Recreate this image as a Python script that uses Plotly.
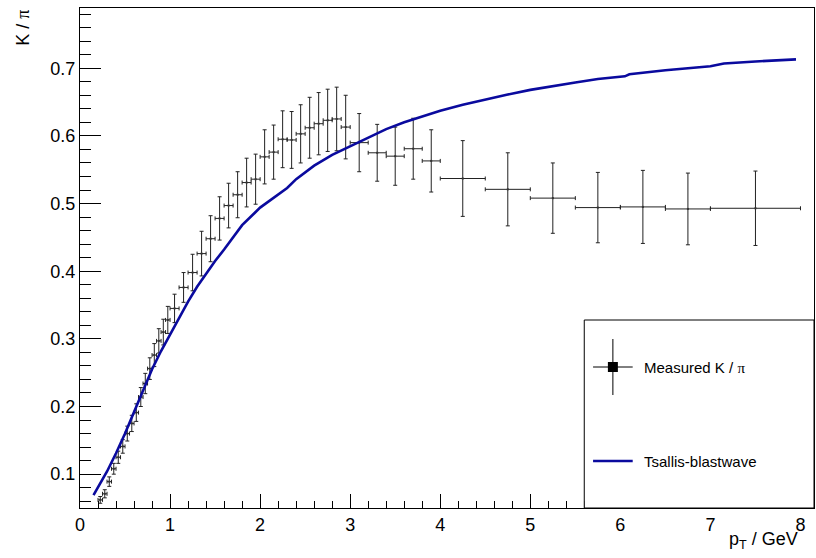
import plotly.graph_objects as go

# ---- data: measured K/pi ratio ----
pt = [0.225, 0.275, 0.325, 0.375, 0.425, 0.475, 0.525, 0.575, 0.625, 0.675,
      0.725, 0.775, 0.825, 0.875, 0.925, 0.975,
      1.05, 1.15, 1.25, 1.35, 1.45, 1.55, 1.65, 1.75, 1.85, 1.95,
      2.05, 2.15, 2.25, 2.35, 2.45, 2.55, 2.65, 2.75, 2.85, 2.95,
      3.1, 3.3, 3.5, 3.7, 3.9,
      4.25, 4.75, 5.25, 5.75, 6.25, 6.75, 7.5]
pt_halfwidth = [0.025] * 16 + [0.05] * 20 + [0.1] * 5 + [0.25] * 6 + [0.5]
ratio = [0.062, 0.071, 0.089, 0.108, 0.125, 0.141, 0.160, 0.175, 0.191, 0.214,
         0.234, 0.256, 0.276, 0.297, 0.310, 0.328,
         0.345, 0.376, 0.398, 0.426, 0.448, 0.478, 0.497, 0.513, 0.531, 0.536,
         0.569, 0.576, 0.595, 0.594, 0.603, 0.612, 0.618, 0.623, 0.625, 0.613,
         0.590, 0.575, 0.570, 0.581, 0.563,
         0.537, 0.521, 0.508, 0.494, 0.495, 0.492, 0.493]
ratio_err = [0.005, 0.006, 0.007, 0.008, 0.009, 0.010, 0.011, 0.012, 0.013, 0.014,
             0.015, 0.016, 0.017, 0.018, 0.019, 0.020,
             0.021, 0.022, 0.027, 0.033, 0.034, 0.032, 0.033, 0.034, 0.036, 0.037,
             0.040, 0.040, 0.042, 0.042, 0.043, 0.045, 0.046, 0.046, 0.047, 0.047,
             0.043, 0.042, 0.043, 0.045, 0.046,
             0.056, 0.054, 0.052, 0.052, 0.054, 0.053, 0.055]

# ---- data: Tsallis-blastwave curve ----
curve_x = [0.15, 0.2, 0.3, 0.4, 0.5, 0.6, 0.7, 0.8, 0.9, 1.0, 1.1, 1.2, 1.3, 1.4,
           1.5, 1.6, 1.8, 2.0, 2.2, 2.3, 2.4, 2.6, 2.8, 3.0, 3.2, 3.4, 3.6, 3.8,
           4.0, 4.25, 4.5, 4.75, 5.0, 5.25, 5.5, 5.75, 5.95, 6.05, 6.1, 6.5, 7.0,
           7.05, 7.15, 7.5, 7.95]
curve_y = [0.069, 0.080, 0.104, 0.131, 0.160, 0.192, 0.224, 0.255, 0.282, 0.307,
           0.332, 0.355, 0.377, 0.397, 0.415, 0.432, 0.468, 0.494, 0.513, 0.523,
           0.536, 0.556, 0.572, 0.585, 0.598, 0.610, 0.620, 0.629, 0.637, 0.646,
           0.654, 0.661, 0.668, 0.674, 0.679, 0.684, 0.687, 0.688, 0.691, 0.697,
           0.703, 0.704, 0.707, 0.710, 0.713]

FONT = "Liberation Sans, Arial, Helvetica, sans-serif"
BLUE = "#0a0a9e"

fig = go.Figure()
fig.add_trace(go.Scatter(
    x=pt, y=ratio, mode="markers",
    marker=dict(symbol="square", size=2, color="#333"),
    error_x=dict(type="data", array=pt_halfwidth, width=2, thickness=1, color="#222"),
    error_y=dict(type="data", array=ratio_err, width=2, thickness=1, color="#222"),
    showlegend=False,
))
fig.add_trace(go.Scatter(
    x=curve_x, y=curve_y, mode="lines",
    line=dict(color=BLUE, width=2.6),
    showlegend=False,
))

axis_common = dict(
    showline=True, linecolor="black", linewidth=1, mirror=True,
    ticks="inside", tickcolor="black", tickwidth=1,
    showgrid=False, zeroline=False,
    tickfont=dict(family=FONT, size=18, color="black"),
)
fig.update_xaxes(range=[0, 8.15], dtick=1, tick0=0, ticklen=14,
                 minor=dict(dtick=0.2, ticks="inside", ticklen=7, tickcolor="black", tickwidth=1),
                 **axis_common)
fig.update_yaxes(range=[0.05, 0.789], dtick=0.1, tick0=0, ticklen=21,
                 tickformat=".1f",
                 minor=dict(dtick=0.02, ticks="inside", ticklen=11, tickcolor="black", tickwidth=1),
                 **axis_common)

# legend box and entries (ROOT-style), in paper coordinates
lx0, lx1, ly0, ly1 = 0.687, 1.0, 0.0, 0.376
shapes = [
    dict(type="rect", xref="paper", yref="paper", x0=lx0, x1=lx1, y0=ly0, y1=ly1,
         line=dict(color="black", width=1), fillcolor="white", layer="above"),
    dict(type="line", xref="paper", yref="paper", x0=0.699, x1=0.753, y0=0.282, y1=0.282,
         line=dict(color="black", width=1), layer="above"),
    dict(type="line", xref="paper", yref="paper", x0=0.726, x1=0.726, y0=0.226, y1=0.338,
         line=dict(color="black", width=1), layer="above"),
    dict(type="rect", xref="paper", yref="paper", x0=0.7192, x1=0.7328, y0=0.272, y1=0.292,
         line=dict(color="black", width=0), fillcolor="black", layer="above"),
    dict(type="line", xref="paper", yref="paper", x0=0.699, x1=0.753, y0=0.094, y1=0.094,
         line=dict(color=BLUE, width=2.6), layer="above"),
]

PI = "<span style='font-family:Liberation Serif, DejaVu Serif, serif'>π</span>"
annotations = [
    dict(xref="paper", yref="paper", x=0.766, y=0.282, xanchor="left", yanchor="middle",
         text="Measured K / " + PI, showarrow=False,
         font=dict(family=FONT, size=15, color="black")),
    dict(xref="paper", yref="paper", x=0.766, y=0.094, xanchor="left", yanchor="middle",
         text="Tsallis-blastwave", showarrow=False,
         font=dict(family=FONT, size=15, color="black")),
    dict(xref="paper", yref="paper", x=0.981, y=-0.038, xanchor="right", yanchor="top",
         text="p<sub>T</sub> / GeV", showarrow=False,
         font=dict(family=FONT, size=18, color="black")),
    dict(xref="paper", yref="paper", x=-0.078, y=1.0, xanchor="center", yanchor="top",
         text="K / " + PI, textangle=-90, showarrow=False,
         font=dict(family=FONT, size=18, color="black")),
]

fig.update_layout(
    width=816, height=558,
    margin=dict(l=80, r=2, t=8, b=50),
    paper_bgcolor="white", plot_bgcolor="white",
    shapes=shapes, annotations=annotations,
    showlegend=False,
)

fig.write_html("out.html")
